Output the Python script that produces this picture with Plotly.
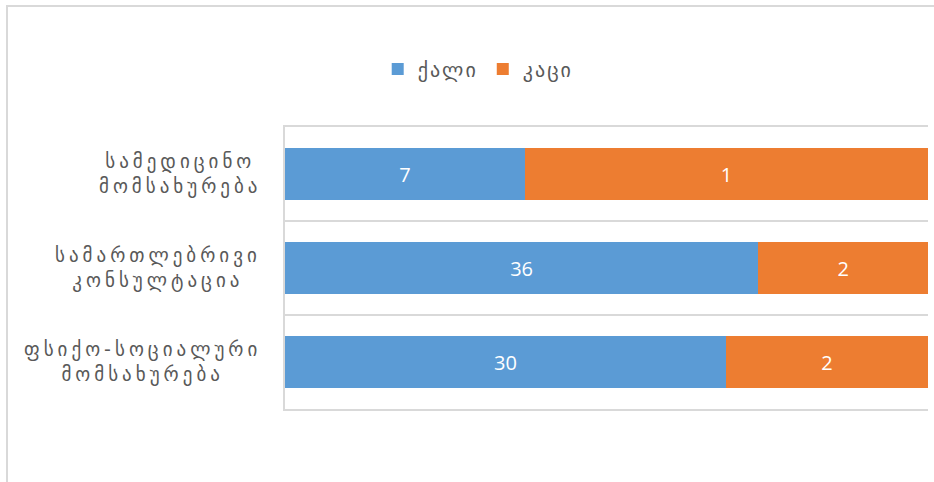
import plotly.graph_objects as go

categories = ["სამედიცინო<br>მომსახურება",
              "სამართლებრივი<br>კონსულტაცია",
              "ფსიქო-სოციალური<br>მომსახურება"]
series_names = ["ქალი", "კაცი"]
women_count = [7, 36, 30]
men_count = [1, 2, 2]
# bar lengths as shares of the full bar
women_share = [37.3, 73.6, 68.6]
men_share = [62.7, 26.4, 31.4]

BLUE = "#5B9BD5"
ORANGE = "#ED7D31"
GRAY = "#595959"
GRID = "#D9D9D9"
GEO_FONT = "DejaVu Sans"

def spaced(t, px):
    return "<br>".join('<span style="letter-spacing:%dpx">%s</span>' % (px, s) for s in t.split("<br>"))

fig = go.Figure()
fig.add_trace(go.Bar(
    y=categories, x=women_share, orientation="h", name=spaced(series_names[0], 2),
    marker=dict(color=BLUE, line=dict(width=0)),
    text=[str(v) for v in women_count], textposition="inside",
    insidetextanchor="middle",
    textfont=dict(color="white", size=20, family="Open Sans"),
    hoverinfo="skip",
))
fig.add_trace(go.Bar(
    y=categories, x=men_share, orientation="h", name=spaced(series_names[1], 2),
    marker=dict(color=ORANGE, line=dict(width=0)),
    text=[str(v) for v in men_count], textposition="inside",
    insidetextanchor="middle",
    textfont=dict(color="white", size=20, family="Open Sans"),
    hoverinfo="skip",
))

for c in categories:
    fig.add_annotation(
        x=0, xref="paper", y=c, yref="y", xanchor="right", yanchor="middle",
        xshift=-22, align="center", showarrow=False,
        text=spaced(c, 4),
        font=dict(family=GEO_FONT, size=19, color=GRAY),
    )

fig.update_layout(
    width=934, height=482,
    margin=dict(l=285, r=6, t=127, b=73, autoexpand=False),
    barmode="stack", bargap=0.44,
    paper_bgcolor="white", plot_bgcolor="white",
    showlegend=True,
    legend=dict(orientation="h", xref="container", yref="container",
                x=0.512, xanchor="center", y=1 - 69 / 482, yanchor="middle",
                font=dict(family=GEO_FONT, size=20, color=GRAY),
                itemwidth=30, traceorder="normal"),
    xaxis=dict(range=[0, 100], showticklabels=False, showgrid=False,
               zeroline=False, showline=True, mirror=True, linecolor=GRID,
               linewidth=2, ticks="", fixedrange=True),
    yaxis=dict(autorange="reversed", showticklabels=False, showgrid=True,
               gridcolor=GRID, gridwidth=2, tickson="boundaries", ticks="",
               showline=True, linecolor=GRID, linewidth=2, zeroline=False),
    font=dict(family=GEO_FONT, color=GRAY),
)

# outer chart border (light gray frame, partly outside the window)
pw = 934 - 285 - 6
ph = 482 - 127 - 73
fig.add_shape(type="rect", xref="paper", yref="paper",
              x0=(7 - 285) / pw, x1=(945 - 285) / pw,
              y0=-(495 - 409) / ph, y1=1 + (127 - 6) / ph,
              line=dict(color=GRID, width=2), layer="below")

fig.write_html("out.html", config={"displayModeBar": False},
               post_script="document.body.style.margin='0px';document.body.style.overflow='hidden';")
